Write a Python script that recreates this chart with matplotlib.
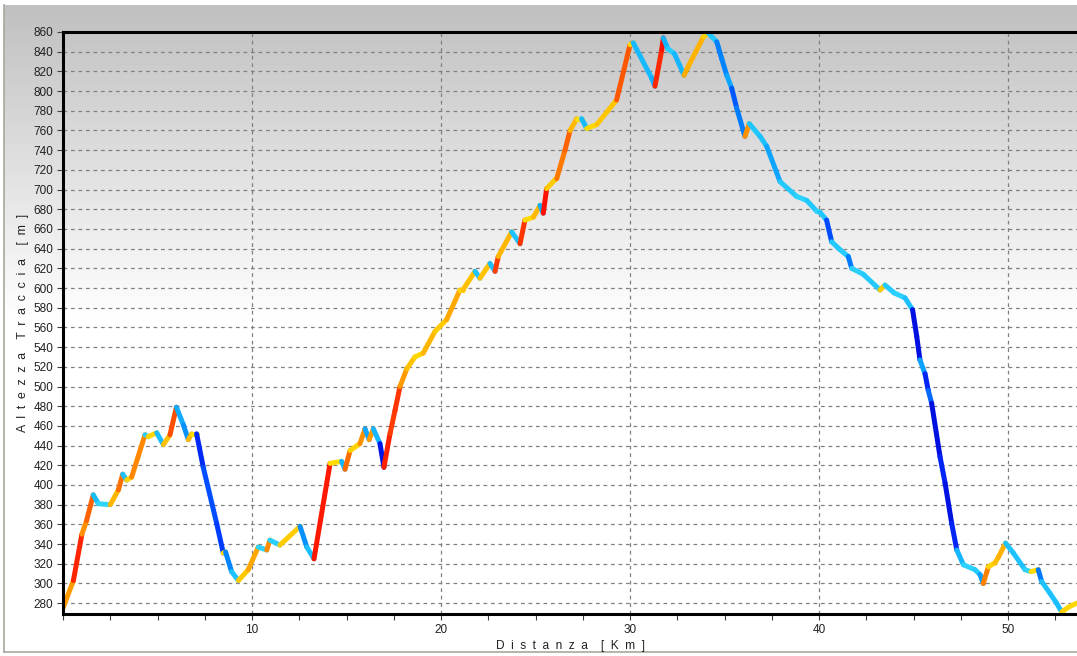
import numpy as np
import matplotlib
matplotlib.use("Agg")
import matplotlib.pyplot as plt
from matplotlib.collections import LineCollection
from matplotlib.colors import LinearSegmentedColormap, to_rgb

# Profilo altimetrico: distanza [km] e quota [m]
distanza = [0.0, 0.55, 1.0, 1.25, 1.6, 1.87, 2.5, 2.93, 3.16, 3.37, 3.63, 4.34, 4.5, 4.96,
            5.31, 5.66, 6.0, 6.37, 6.63, 6.81, 7.07, 7.42, 8.13, 8.48, 8.6, 8.92, 9.28, 9.8,
            10.33, 10.78, 10.95, 11.48, 12.54, 12.9, 13.28, 14.13, 14.74, 14.92, 15.19, 15.71,
            15.98, 16.2, 16.42, 16.77, 16.98, 17.3, 17.57, 17.83, 18.19, 18.62, 19.06, 19.68,
            20.3, 21.0, 21.15, 21.8, 22.06, 22.59, 22.86, 23.03, 23.74, 24.18, 24.44, 24.89,
            25.24, 25.41, 25.59, 26.03, 26.12, 26.56, 26.83, 27.18, 27.44, 27.71, 28.24, 29.29,
            30.0, 30.17, 31.15, 31.32, 31.68, 31.76, 32.0, 32.35, 32.86, 33.08, 33.88, 34.14,
            34.59, 34.85, 35.12, 35.38, 35.64, 36.08, 36.31, 36.88, 37.23, 37.94, 38.82, 39.35,
            39.88, 40.05, 40.4, 40.67, 41.11, 41.55, 41.73, 42.34, 43.23, 43.49, 43.98, 44.55,
            44.95, 45.17, 45.34, 45.61, 45.78, 45.96, 46.4, 46.67, 47.02, 47.29, 47.64, 48.25,
            48.52, 48.69, 48.96, 49.31, 49.5, 49.87, 50.28, 50.9, 51.22, 51.6, 51.78, 52.22,
            52.57, 52.84, 53.2, 53.63]
quota = [275, 303, 350, 364, 390, 381, 380, 395, 411, 405, 408, 451, 449, 453,
         441, 451, 479, 461, 446, 452, 452, 418, 361, 331, 332, 312, 303, 314,
         337, 334, 344, 339, 358, 337, 325, 422, 424, 416, 435, 442,
         457, 446, 457, 442, 418, 452, 476, 500, 518, 530, 534, 556,
         568, 598, 598, 617, 610, 625, 617, 632, 657, 645, 669, 672,
         684, 676, 701, 710, 711, 740, 760, 772, 772, 762, 766, 791,
         847, 849, 813, 805, 842, 854, 843, 838, 816, 825, 855, 859,
         850, 833, 816, 803, 783, 754, 767, 754, 744, 708, 693, 689,
         678, 677, 669, 647, 639, 632, 620, 614, 598, 603, 595, 590,
         578, 551, 527, 513, 496, 483, 429, 402, 361, 334, 319, 314,
         309, 300, 317, 321, 327, 341, 331, 314, 312, 314, 302, 290,
         280, 271, 276, 280]

x = np.array(distanza)
y = np.array(quota, dtype=float)

# pendenza in % per ogni tratto
pend = np.diff(y) / (np.diff(x) * 1000) * 100

lim = 12.0
nodi = [(-12, "#0010e0"), (-9, "#0030ff"), (-6.5, "#0080ff"), (-4.5, "#14b4ff"),
        (-2, "#22c8ff"), (-0.01, "#30d8ff"), (0.01, "#ffe000"), (3, "#ffc000"),
        (6, "#ff8a00"), (9, "#ff3a00"), (12, "#ff1000")]
cmap = LinearSegmentedColormap.from_list(
    "pend", [((v + lim) / (2 * lim), c) for v, c in nodi])
colori = cmap((np.clip(pend, -lim, lim) + lim) / (2 * lim))

fig = plt.figure(figsize=(10.77, 6.56), dpi=100, facecolor="white")

# sfondo sfumato del pannello
bg = fig.add_axes([4 / 1077, 4 / 656, 1 - 4 / 1077, 647 / 656])
grad = np.linspace(0, 1, 300)
top = np.array(to_rgb("#c0c0c0"))
frac = np.clip(grad / 0.487, 0, 1)[:, None]
img = top + (1 - top) * frac
bg.imshow(img[:, None, :], aspect="auto", extent=[0, 1, 0, 1], origin="upper")
bg.set_xticks([])
bg.set_yticks([])
for s in ["top", "right"]:
    bg.spines[s].set_visible(False)
for s in ["left", "bottom"]:
    bg.spines[s].set_color("#a8a8a0")
    bg.spines[s].set_linewidth(1.2)

ax = fig.add_axes([63 / 1077, 42 / 656, 1 - 63 / 1077, 582 / 656])
ax.set_facecolor("none")

seg = np.stack([np.column_stack([x[:-1], y[:-1]]), np.column_stack([x[1:], y[1:]])], axis=1)
lc = LineCollection(seg, colors=colori, linewidths=3.6, capstyle="round", joinstyle="round")
ax.add_collection(lc)

ax.set_xlim(0, 53.65)
ax.set_ylim(269, 860)
ax.set_yticks(np.arange(280, 861, 20))
ax.set_xticks([10, 20, 30, 40, 50])
ax.set_xticks(np.arange(0, 53.6, 2.5), minor=True)

ax.grid(True, which="major", color="#808080", linestyle=(0, (3, 3)), linewidth=0.9)
ax.set_axisbelow(True)

for s in ["top", "bottom", "left"]:
    ax.spines[s].set_color("black")
    ax.spines[s].set_linewidth(2.2)
ax.spines["right"].set_visible(False)

ax.tick_params(axis="both", which="major", direction="out", length=4, width=0.8,
               colors="#404040", labelsize=8.5, pad=3, labelcolor="#202020")
ax.tick_params(axis="x", which="minor", direction="out", length=4, width=0.8, colors="#404040")
for lab in ax.get_xticklabels() + ax.get_yticklabels():
    lab.set_fontfamily("Liberation Sans")


def spaziato(testo):
    return "    ".join("  ".join(parola) for parola in testo.split(" "))


ax.set_xlabel(spaziato("Distanza [Km]"), fontsize=8.6, family="Liberation Sans",
              color="#202020", labelpad=3)
ax.set_ylabel(spaziato("Altezza Traccia [m]"), fontsize=8.8,
              family="Liberation Sans", color="#202020", labelpad=3)

fig.savefig("out.png", dpi=100, facecolor="white")
